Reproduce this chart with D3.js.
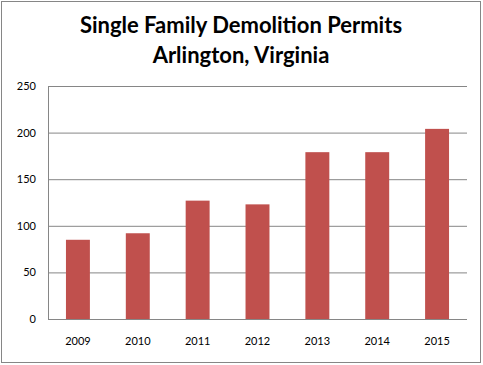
<!DOCTYPE html>
<html>
<head>
<meta charset="utf-8">
<style>
    body { margin: 0; background: #fff; }
    svg { display: block; }
    .title { font-family: Lato, 'Open Sans', sans-serif; font-weight: bold; font-size: 22px; fill: #000; }
    .tick text { font-family: Lato, 'Open Sans', sans-serif; font-size: 11px; fill: #000; }
</style>
</head>
<body>
<svg width="483" height="365"></svg>
<script src="https://d3js.org/d3.v7.min.js"></script>
<script>
    // data
    let years = ["2009", "2010", "2011", "2012", "2013", "2014", "2015"];
    let permits = [85, 92, 127, 123, 179, 179, 204];
    let yTicks = [0, 50, 100, 150, 200, 250];
    let titleLines = ["Single Family Demolition Permits", "Arlington, Virginia"];

    let width = 483, height = 365;
    let margin = { top: 86, right: 16, bottom: 46, left: 48 };

    let svg = d3.select("svg");

    // outer chart border
    svg.append("rect")
        .attr("x", 1.5).attr("y", 1.5)
        .attr("width", 479).attr("height", 361)
        .attr("fill", "#fff")
        .attr("stroke", "#868686")
        .attr("stroke-width", 1);

    let x = d3.scaleBand()
        .domain(years)
        .range([margin.left, width - margin.right])
        .paddingInner(0.6)
        .paddingOuter(0.3);

    let y = d3.scaleLinear()
        .domain([0, 250])
        .range([height - margin.bottom, margin.top]);

    // gridlines + y labels
    let yAxis = svg.append("g")
        .attr("transform", "translate(" + margin.left + ",0)")
        .call(d3.axisLeft(y).tickValues(yTicks).tickSize(-(width - margin.left - margin.right)).tickPadding(12));
    yAxis.select(".domain").remove();
    yAxis.selectAll(".tick line")
        .attr("stroke", "#868686");
    yAxis.selectAll(".tick line").filter(d => d === 0).remove();

    svg.selectAll(".bar")
        .data(permits)
        .join("rect")
        .attr("class", "bar")
        .attr("x", (d, i) => x(years[i]))
        .attr("width", x.bandwidth())
        .attr("y", d => y(d))
        .attr("height", d => y(0) - y(d))
        .attr("fill", "#C0504D");

    // x axis
    let xAxis = svg.append("g")
        .attr("transform", "translate(0," + y(0) + ")")
        .call(d3.axisBottom(x).tickSize(0).tickPadding(18));
    xAxis.select(".domain")
        .attr("stroke", "#868686")
        .attr("d", "M" + margin.left + ",0.5H" + (width - margin.right));

    // vertical axis line
    svg.append("line")
        .attr("x1", margin.left + 0.5).attr("x2", margin.left + 0.5)
        .attr("y1", y(250)).attr("y2", y(0))
        .attr("stroke", "#868686");

    svg.selectAll(".title")
        .data(titleLines)
        .join("text")
        .attr("class", "title")
        .attr("x", 241)
        .attr("y", (d, i) => 33 + i * 30)
        .attr("text-anchor", "middle")
        .text(d => d);
</script>
</body>
</html>
